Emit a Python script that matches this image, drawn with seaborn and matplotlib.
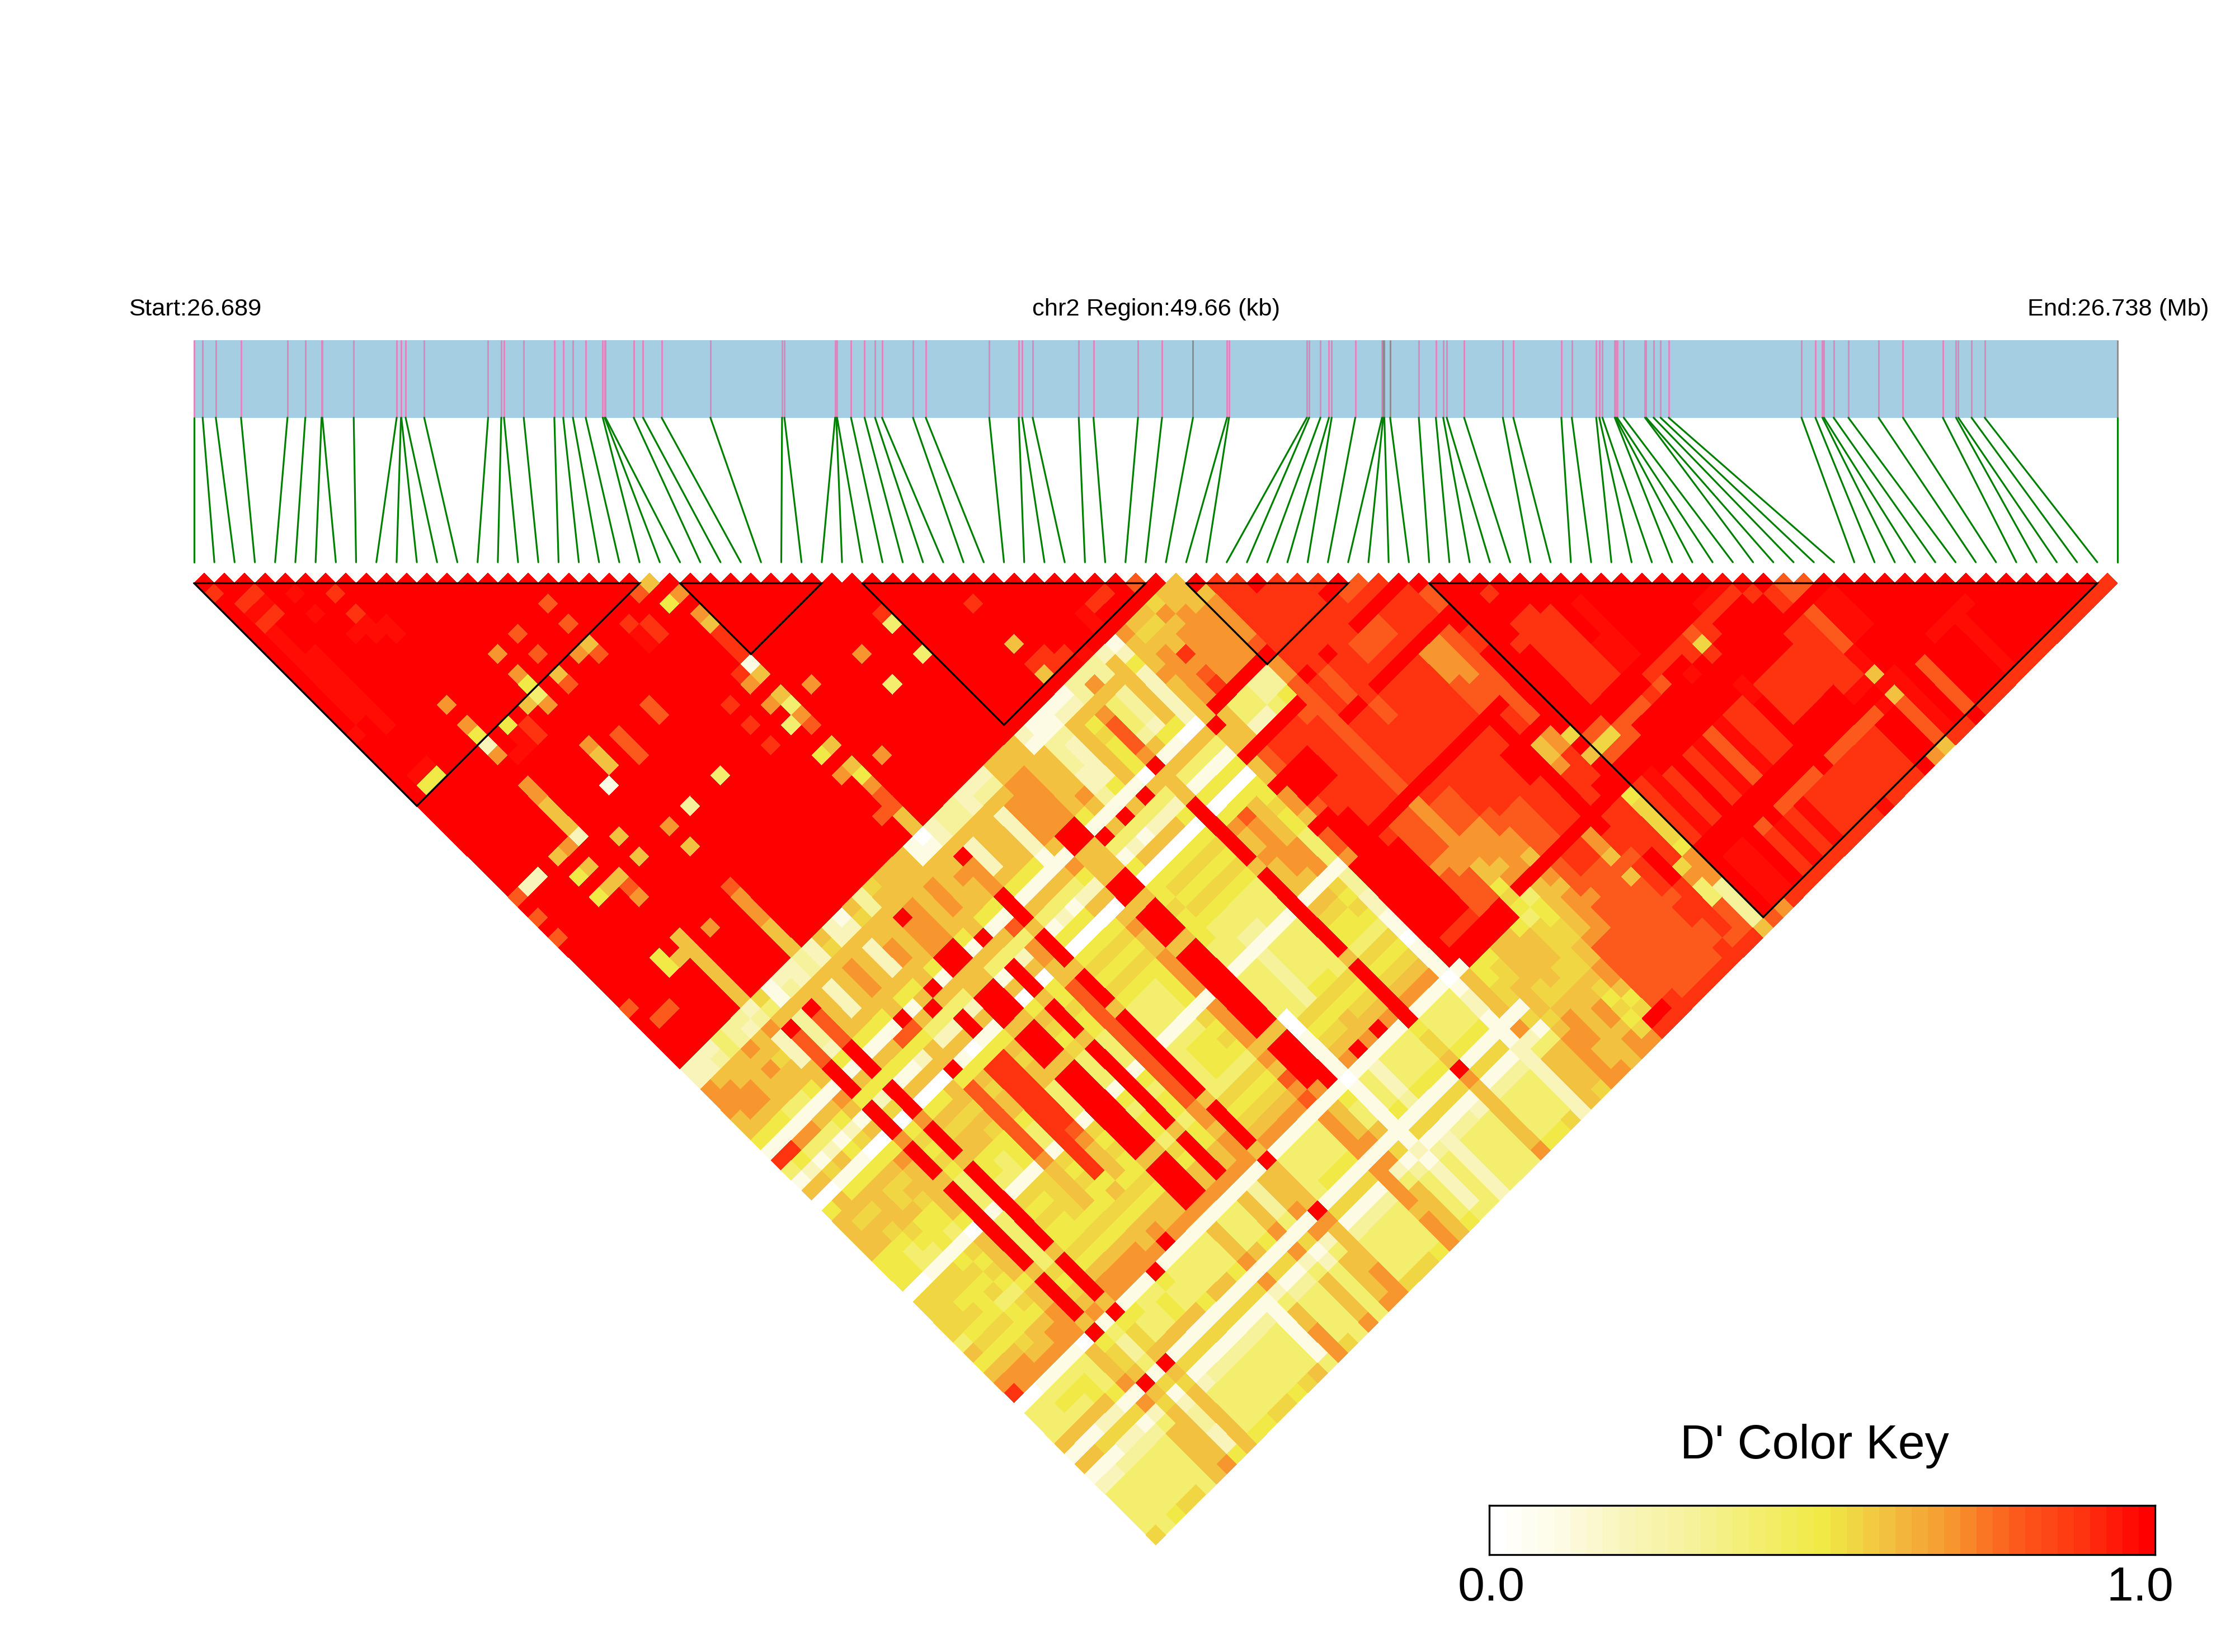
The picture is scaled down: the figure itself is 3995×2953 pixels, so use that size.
import numpy as np
import matplotlib
matplotlib.use('Agg')
import matplotlib.pyplot as plt
from matplotlib.colors import ListedColormap
from matplotlib.transforms import Affine2D
import seaborn as sns

# SNP positions along the region (kb from the start)
snp_kb = [0, .22, .56, 1.21, 2.41, 2.87, 3.29, 3.31, 4.12, 5.23, 5.34, 5.35, 5.46, 5.94, 7.59, 7.93,
          8.00, 8.51, 9.30, 9.53, 9.78, 10.11, 10.55, 10.60, 10.62, 11.35, 11.59, 12.07, 13.33, 15.18, 15.24, 16.55,
          16.58, 16.60, 16.96, 17.31, 17.58, 17.76, 18.56, 18.89, 20.53, 21.29, 21.38, 21.65, 22.84, 23.22, 24.37, 24.99,
          25.79, 26.67, 26.72, 28.73, 28.79, 29.08, 29.30, 29.37, 29.98, 30.67, 30.70, 30.73, 30.88, 31.62, 32.06, 32.25,
          32.34, 32.79, 33.79, 34.06, 35.30, 35.57, 36.20, 36.28, 36.36, 36.68, 36.70, 36.74, 36.91, 37.46, 37.49, 37.68,
          37.86, 38.07, 41.50, 41.86, 42.04, 42.08, 42.33, 42.71, 43.49, 44.12, 45.15, 45.49, 45.55, 45.89, 46.23, 49.66]
grey_snps = [48, 58, 59, 60, 95]
region_kb = 49.66

# LD blocks, first and last SNP
block_first = [0, 24, 33, 49, 61]
block_last = [22, 31, 47, 57, 94]

# codes used for D' below
levels = {'g': .55, 'a': .97, 'r': 1.0}
levels.update({str(n): n / 10 for n in range(10)})

# SNPs 0-48 against SNPs 49-95, one row per first SNP
cross_rows = [
    "227 7766 5194 1605 6666 5550 gggg 4656 7904 4461 6124 444g",
    "226 7776 5195 2606 6g66 5550 gggg 5g56 7704 4461 6124 4444",
    "236 6776 5174 1g15 6g6g 5441 gg5g 5g56 7714 5461 g134 4445",
    "446 6666 4174 2615 6666 g541 gg55 5g5g 6714 5462 g234 444g",
    "337 6766 4164 1515 6gg6 5551 5g5g 4556 6714 5562 g234 444g",
    "326 6g66 5165 2g05 6g6g 5541 g5g5 4g56 7714 4451 g134 4444",
    "237 2226 6176 1605 7666 6650 6666 5667 7706 6671 7246 6666",
    "g46 r888 rrr5 rrr7 rrr6 rrrr rrrr 6rrr r6r5 gg6r 6g66 6667",
    "116 3332 5165 2g05 g5g5 4441 4444 4g5g 6714 3341 g123 3225",
    "236 r888 rrr5 rrr7 rrr6 rrrr rrrr 6rrr r6r5 gg6r 6g66 6666",
    "226 6666 5165 1605 6g66 5541 g5g5 5g56 7715 4461 g124 4445",
    "336 2226 5165 1605 6g66 5441 g5g5 5g56 7714 4461 g134 4445",
    "226 6666 5185 2606 6g6g 5551 gggg 5g56 7714 5561 g134 444g",
    "6g6 7776 6r85 66r5 8888 8887 6666 5g56 77r5 4461 g134 444g",
    "226 6666 5164 2615 6g66 5441 g5g5 5g56 6714 4451 g134 4445",
    "126 2226 56r4 2605 9999 9999 9995 6g56 7r14 4461 g134 444g",
    "6g6 6776 6r64 rr15 9999 9998 7666 5g56 6714 4461 g134 4446",
    "336 6666 5164 2615 6g66 4441 g5g5 5g56 6714 4451 g111 1114",
    "g66 r777 rr66 rrr6 rrr6 rrrr rrrr 6rrr r716 6671 7246 6777",
    "666 7777 rr66 rrr6 rrr6 rrrr rrrr 6rrr r714 4461 g134 444g",
    "666 6666 5164 1605 6g5g 4441 5455 4g56 6714 4451 g134 4444",
    "666 7776 6r64 rrr6 rrr6 rrrr rrrr 6rrr r716 6671 7246 6667",
    "116 6666 5164 2605 5g55 4441 5455 4556 6713 3341 g124 4444",
    "016 6766 5184 7766 8888 8888 8888 7767 7716 6671 7246 6667",
    "226 r777 rrr6 rrr6 rrr6 rrrr rrrr 6rrr r6r6 666r 7666 6777",
    "336 2226 5164 1505 g5g5 4441 4444 4g5g 6714 4441 g134 444g",
    "336 6666 5164 2505 g5g5 4441 4555 4g5g 6714 4451 g134 444g",
    "226 6666 5164 1505 g5g5 4441 4555 4g5g 6714 4451 g134 444g",
    "236 2222 1164 2605 g5g5 5551 g5g5 4g5g 6714 4451 g134 4445",
    "236 7777 6175 2606 7667 7771 7777 6768 7817 7771 7777 6777",
    "667 7777 rr66 6rr6 rrr6 rrrr rrrr 6rrr r716 6671 7246 6666",
    "667 7777 rr66 6rr6 rrr6 rrrr rrrr 6rrr rr15 4461 g134 4445",
    "666 6666 51r4 1505 5g55 5441 4444 0011 1101 1111 1212 2224",
    "216 6667 6164 2605 g5g5 4441 4444 4g5g 6714 4451 g134 4444",
    "113 3322 31r4 1605 g5g5 4431 3333 3g5g 6r12 2231 g122 2222",
    "113 2222 5164 2605 g5g5 4431 4444 5g56 6714 4451 g134 4444",
    "126 6666 61r4 2605 g5g5 4441 4444 5g5g 6r14 4451 g134 4444",
    "126 5g55 5064 2505 g5g5 4441 4444 4g5g 6714 4451 g124 4444",
    "336 7888 7r66 6rrr rrr6 rrrr rrrr 6rrr rrr5 gg6r 7666 6667",
    "376 4443 6164 1505 7667 6661 6g55 4g5g 6714 4451 g134 4445",
    "336 3332 5164 1505 8777 7761 6g55 4g5g 6714 4451 g134 4445",
    "266 6666 5064 1505 6666 7771 g5g5 4g5g 6714 4451 g134 444g",
    "125 2222 2064 1505 5g55 4441 3322 1101 1101 2211 1222 2222",
    "766 6766 66r6 6r66 r776 r887 rrrr rrrr rr16 6661 7246 6666",
    "6g6 7777 7r66 6r88 rrr8 rrrr rrrr rrrr 9rr5 5gg1 g146 666g",
    "6g6 6978 9r44 2r99 rrr9 9rrr rrrr rrrr 9rr5 gg66 6g67 7777",
    "g76 7777 7r44 2r99 rrr9 999r 9rrr rrrr 9rr6 666g g677 7667",
    "667 7777 7r33 4r99 9999 999r 8888 7888 8rr6 6666 g666 6666",
    "666 7777 7r33 5r89 9999 999r 8888 7788 8rr5 666g g667 7677",
]

# SNPs 49-94 against later SNPs, right aligned on SNP 95
right_rows = [
    "r6 7777 8r77 8888 8888 888r 7777 7766 5g54 gggg g6g5 g5g7",
    "99 9999 9999 r999 r999 999r 9888 7776 7r45 5gg6 6776 5gr9",
    "9999 9999 9888 r999 999r 9888 7777 7r66 6667 8888 88r9",
    "r99 9999 r999 9889 999r 9999 8877 6r76 7777 8888 8899",
    "9999 9999 9999 r999 999r 9999 9888 8r88 8788 8888 8889",
    "9r99 9999 9889 r999 999r 9999 9888 8r99 8888 8888 8889",
    "9r99 9r99 r889 r999 999r 9999 9999 9r99 8888 8888 8889",
    "rr99 rr89 r889 r999 999r 99rr r999 9r77 6868 8888 8889",
    "r999 r889 r999 r777 888r rrrr rrrr rrr9 9899 9899 8899",
    "r999 r999 r999 r777 788r 99r6 6799 9r99 99rr r999 9989",
    "r999 r999 r999 r888 8888 88r7 7999 rr99 9999 g744 8889",
    "rr99 r999 rr99 rr88 rr99 rrrr rrrr gr6r rr5g ggg5 7773 3336",
    "rr rrrr rrrr rrrr r8g8 rr99 9999 rrrr rrr8",
    "rrrr r9rr rrrr r8g8 rraa aaaa rraa aaa7",
    "r9rr 9999 9999 rr88 rrr9 9999 rraa aaa9",
    "rrr 9999 9999 rr8r rrrr rrrr rrrr rrr9",
    "rr r999 9999 rr8r rrr9 9999 rr89 9999",
    "r rrrr raaa rr9r rrra aaaa rrra aaa9",
    "rraa aaaa r98r rrr8 8888 rr89 9999",
    "rrr rrrr r9rr rrra aaaa rr8a aaa9",
    "rr rrrr r9ra rrr9 9999 rr89 9999",
    "r rrrr r99r rrr9 9999 rr89 9999",
    "rrrr r8g9 rraa rrrr rrr9 9999",
    "rrr r99r rrr9 999r rr89 999a",
    "rr a9rr rrr9 999r rr89 9999",
    "r a9rr rrr9 999r rr89 9999",
    "a9rr rrr9 999r rr89 9999",
    "a9r rr99 9999 ar8r rrrr",
    "r9 9r99 9999 arar rrr7",
    "8 8r88 88aa 6a68 8886",
    "8raa aarr raaa aaa9",
    "raa aarr rrrr rrr9",
    "rr rrrr rr88 888r",
    "r rrrr rrrr rrr9",
    "rrrr rarr rrr9",
    "rrr rarr rrr9",
    "rr raaa aaa9",
    "r rarr rrr9",
    "rrrr rrr9",
    "rrr rrr9",
    "rr rrr9",
    "r rrr9",
    "rrr9",
    "rr9",
    "r9",
    "9",
]

# cells inside the first red triangle (SNPs 0-48) that are not full red
left_cells = [
    (0, 2, '9'), (1, 4, '9'), (2, 4, '9'), (2, 5, 'a'), (1, 5, 'a'), (2, 6, '9'), (1, 6, '9'), (4, 6, 'a'), (6, 8, '9'),
    (4, 8, 'a'), (6, 10, '9'), (1, 7, 'a'), (1, 8, 'a'), (1, 9, 'a'), (1, 10, 'a'), (2, 10, 'a'), (1, 11, 'a'), (2, 11, 'a'),
    (1, 12, 'a'), (2, 12, 'a'), (1, 13, 'a'), (2, 13, 'a'), (1, 14, 'a'), (2, 14, 'a'), (1, 15, 'a'), (2, 15, 'a'),
    (2, 16, 'a'), (2, 17, 'a'), (0, 16, 'a'), (5, 11, 'a'), (6, 11, 'a'), (6, 12, 'a'), (7, 12, 'a'), (7, 13, 'a'),
    (16, 19, '8'), (16, 21, '8'), (13, 19, '8'), (11, 19, '7'), (13, 21, '8'), (6, 19, '7'), (6, 21, '7'), (6, 22, '5'),
    (6, 23, '2'), (6, 24, '7'), (8, 23, '5'), (9, 24, '9'), (9, 25, '9'), (8, 24, 'a'), (8, 25, 'a'), (7, 25, 'a'),
    (1, 22, '5'), (2, 22, '5'), (1, 21, 'a'), (2, 21, 'a'), (11, 21, '7'), (11, 22, '5'), (11, 23, '4'), (10, 23, '6'),
    (11, 24, '7'), (13, 23, '6'), (13, 24, '8'), (16, 23, '6'), (15, 23, '7'), (16, 24, '8'), (21, 23, '8'), (22, 23, '6'),
    (22, 25, '5'), (23, 25, '7'), (19, 24, '9'), (20, 25, '9'), (19, 25, 'a'), (20, 26, '9'), (19, 26, 'a'), (10, 31, '1'),
    (11, 28, '7'), (11, 29, '6'), (11, 30, '6'), (13, 29, '8'), (13, 30, '8'), (13, 31, '8'), (16, 29, '8'), (16, 30, '8'),
    (6, 32, '2'), (5, 32, '7'), (4, 32, '6'), (5, 34, '6'), (4, 34, '5'), (1, 32, '2'), (2, 32, '2'), (0, 32, '8'),
    (4, 36, '5'), (5, 36, '6'), (6, 36, '6'), (6, 37, '8'), (6, 38, '7'), (0, 34, '8'), (0, 36, '8'), (0, 43, '8'),
    (1, 45, '8'), (2, 45, '8'), (6, 27, '7'), (6, 28, '7'), (6, 29, '6'), (6, 30, '6'), (6, 31, '6'), (11, 42, '8'),
    (11, 43, '7'), (11, 44, '7'), (11, 45, '7'), (11, 46, '6'), (11, 47, '6'), (11, 48, '6'), (6, 42, '6'), (6, 43, '6'),
    (6, 44, '6'), (6, 45, '6'), (6, 46, '6'), (6, 47, '6'), (6, 48, '6'), (4, 42, '5'), (4, 43, '5'), (5, 43, '6'),
    (8, 43, '7'), (8, 36, '6'), (8, 34, '6'), (13, 36, '3'), (11, 36, '7'), (11, 38, '6'), (16, 36, '4'), (22, 35, '7'),
    (23, 35, '6'), (23, 36, '4'), (22, 37, '4'), (23, 32, '1'), (23, 33, '6'), (22, 33, '7'), (22, 32, '9'), (23, 28, '6'),
    (23, 27, '7'), (23, 29, '9'), (23, 30, '9'), (23, 31, '9'), (20, 33, '9'), (20, 35, '9'), (20, 37, '9'), (23, 37, '7'),
    (23, 38, '8'), (23, 40, '6'), (22, 40, '5'), (22, 42, '7'), (23, 42, '6'), (23, 43, '5'), (23, 44, '7'), (23, 45, '8'),
    (23, 46, '8'), (23, 47, '6'), (23, 48, '6'), (22, 46, '8'), (29, 37, '7'), (29, 40, '4'), (32, 40, '4'), (32, 37, '4'),
    (32, 36, '9'), (37, 44, '6'), (37, 47, '6'), (37, 46, '9'), (37, 40, '9'), (25, 36, '7'), (25, 43, '7'), (44, 46, '9'),
    (46, 47, '8'), (43, 46, '9'), (42, 46, 'a'), (42, 47, 'a'), (38, 46, '9'), (39, 47, '9'), (38, 47, '9'), (40, 48, 'a'),
]

# color key anchors at every tenth of D'
key_colors = ['#FFFFFF', '#FDFBE3', '#F9F5BA', '#F6F29A', '#F3EE6E', '#F0EA46',
              '#F2C13F', '#F7962F', '#FC5A1C', '#FE3510', '#FF0000']
key_values = np.linspace(0, 1, 41)

n_snps = len(snp_kb)
dprime = np.full((n_snps, n_snps), np.nan)
for i in range(49):
    for j in range(i + 1, 49):
        dprime[i, j] = 1.0
for i, j, code in left_cells:
    dprime[i, j] = levels[code]
for i, row in enumerate(cross_rows):
    row = row.replace(' ', '').ljust(47, '5')[:47]
    for n, code in enumerate(row):
        dprime[i, 49 + n] = levels[code]
for n, row in enumerate(right_rows):
    i = 49 + n
    size = n_snps - 1 - i
    row = row.replace(' ', '').rjust(size, 'r')[-size:]
    for m, code in enumerate(row):
        dprime[i, i + 1 + m] = levels[code]

# layout in pixels
left, right = 347, 3785
step = (right - left) / (n_snps - 1)
half = step / 2
top_y = 1042.5
strip_top, strip_bottom = 607.5, 746.5
lines_end = 1005

sns.set_style('white')
plt.rcParams['font.family'] = ['Liberation Sans', 'DejaVu Sans']
plt.rcParams['text.color'] = 'black'
cmap = ListedColormap(sns.blend_palette(key_colors, n_colors=41))

fig = plt.figure(figsize=(39.95, 29.53), dpi=100)
ax = fig.add_axes([0, 0, 1, 1])

sns.heatmap(dprime, ax=ax, mask=np.isnan(dprime), cmap=cmap, vmin=0, vmax=1,
            cbar=False, xticklabels=False, yticklabels=False, square=False)
# heatmap cells turned 45 degrees so that they hang below the SNP axis
turn = Affine2D(np.array([[half, half, left - half],
                          [half, -half, top_y - half],
                          [0, 0, 1]]))
ax.collections[0].set_transform(turn + ax.transData)

ax.set_xlim(0, 3995)
ax.set_ylim(2953, 0)
ax.axis('off')

# gene strip with SNP ticks
ax.fill_between([left, right], strip_top, strip_bottom, color='#A6CEE3', lw=0)
snp_x = left + np.array(snp_kb) / region_kb * (right - left)
for n, x in enumerate(snp_x):
    tick = '#8C8C8C' if n in grey_snps else '#DE85BE'
    ax.plot([x, x], [strip_top, strip_bottom], color=tick, lw=2.1, solid_capstyle='butt')
    ax.plot([x, left + n * step], [strip_bottom, lines_end], color='#008000', lw=2.3)

# LD block outlines
for first, last in zip(block_first, block_last):
    x0, x1 = left + first * step, left + last * step
    ax.plot([x0, x1, (x0 + x1) / 2, x0],
            [top_y, top_y, top_y + (last - first) * half, top_y],
            color='black', lw=2.4, solid_joinstyle='miter')

ax.text(230, 564, 'Start:26.689', fontsize=31.3, ha='left', va='baseline')
ax.text(2067, 564, 'chr2 Region:49.66 (kb)', fontsize=31.3, ha='center', va='baseline')
ax.text(3948, 564, 'End:26.738 (Mb)', fontsize=31.3, ha='right', va='baseline')

# color key
key_ax = fig.add_axes([2662 / 3995, 1 - 2779 / 2953, 1190 / 3995, 88 / 2953])
sns.heatmap(key_values[np.newaxis, :], ax=key_ax, cmap=cmap, vmin=0, vmax=1,
            cbar=False, xticklabels=False, yticklabels=False)
for spine in key_ax.spines.values():
    spine.set_visible(True)
    spine.set_color('black')
    spine.set_linewidth(2.4)

ax.text(3243, 2607, "D' Color Key", fontsize=62, ha='center', va='baseline')
ax.text(2666, 2861, '0.0', fontsize=62, ha='center', va='baseline')
ax.text(3825, 2861, '1.0', fontsize=62, ha='center', va='baseline')

fig.savefig('out.png', dpi=100)
